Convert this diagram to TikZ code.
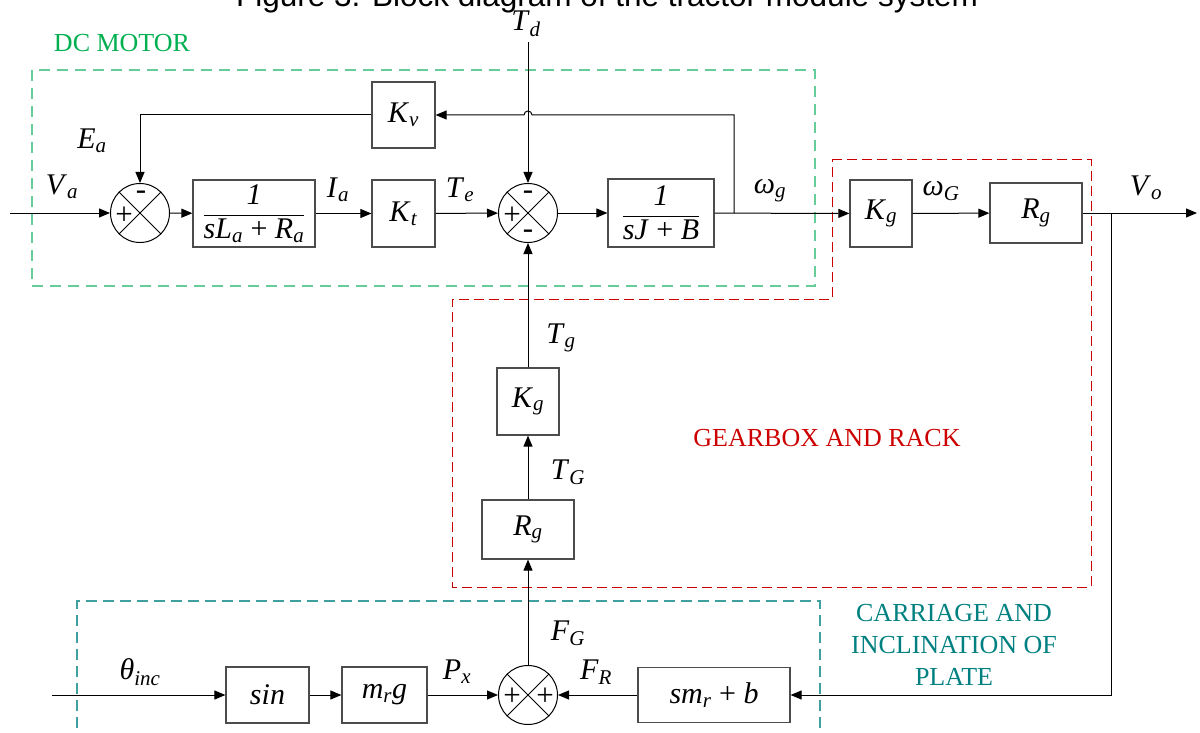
\documentclass[tikz,border=0pt]{standalone}
\usepackage{fontspec}
\setmainfont{Liberation Serif}
\setsansfont{Liberation Sans}
\usetikzlibrary{arrows.meta}
\definecolor{dcgreen}{RGB}{0,176,80}
\definecolor{dcline}{RGB}{102,204,153}
\definecolor{gbred}{RGB}{204,0,0}
\definecolor{crteal}{RGB}{0,128,128}
\definecolor{crline}{RGB}{64,160,160}
\newcommand{\vr}[2]{\textit{#1}\textsubscript{\textit{#2}}}
\newcommand{\fr}[2]{$\displaystyle\frac{\mbox{#1}}{\mbox{#2}}$}
\tikzset{
  blk/.style={draw=black!70,line width=1.2pt,inner sep=0pt,font=\fontsize{30}{34}\selectfont},
  sumj/.style={circle,draw,line width=1pt,minimum size=59pt,inner sep=0pt},
  sgn/.style={inner sep=0pt,font=\fontsize{31}{34}\selectfont},
  lbl/.style={inner sep=0pt,font=\fontsize{30}{34}\selectfont},
  grp/.style={inner sep=0pt,font=\fontsize{26}{32}\selectfont,align=center},
  arr/.style={line width=1pt,-{Triangle[length=11pt,width=9pt]}},
  ln/.style={line width=1pt}
}
\begin{document}
\begin{tikzpicture}[x=1pt,y=-1pt]
\useasboundingbox (0,0) rectangle (1200,733);
\node[anchor=base,inner sep=0pt,font=\fontsize{31.5}{36}\sffamily] (ttl) at (607,7) {Figure 3. Block diagram of the tractor module system};
% group frames
\draw[dcline,line width=1.5pt,dash pattern=on 11pt off 7pt] (32,70) rectangle (815,286);
\draw[gbred,line width=1pt,dash pattern=on 10pt off 5pt] (832,160) -- (1091,160) -- (1091,587) -- (452,587) -- (452,299) -- (832,299) -- cycle;
\draw[crline,line width=1.2pt,dash pattern=on 11pt off 6pt] (77,745) -- (77,601) -- (820,601) -- (820,745);
\node[grp,text=dcgreen] (ldc) at (122,43) {DC MOTOR};
\node[grp,text=gbred] (lgb) at (827,438) {GEARBOX AND RACK};
\node[grp,text=crteal] (lcr) at (954,645) {CARRIAGE AND\\INCLINATION OF\\PLATE};
% blocks
\node[sumj] (s1) at (140,213) {};
\node[blk,minimum width=122pt,minimum height=67pt] (fa) at (254,213.5) {\fr{\textit{1}}{\vr{sL}{a} + \vr{R}{a}}};
\node[blk,minimum width=63pt,minimum height=67pt] (kt) at (403.5,213.5) {\vr{K}{t}};
\node[blk,minimum width=63pt,minimum height=66pt] (kv) at (403.5,115) {\vr{K}{v}};
\node[sumj] (s2) at (528,213) {};
\node[blk,minimum width=106pt,minimum height=68pt] (fj) at (661,213) {\fr{\textit{1}}{\textit{sJ} + \textit{B}}};
\node[blk,minimum width=62pt,minimum height=67pt] (kg1) at (881,213.5) {\vr{K}{g}};
\node[blk,minimum width=92pt,minimum height=60pt] (rg1) at (1036,213) {\vr{R}{g}};
\node[blk,minimum width=62pt,minimum height=67pt] (kg2) at (528,401.5) {\vr{K}{g}};
\node[blk,minimum width=92pt,minimum height=59pt] (rg2) at (528,529.5) {\vr{R}{g}};
\node[sumj] (s3) at (528,695) {};
\node[blk,minimum width=83pt,minimum height=56pt] (sn) at (267.5,695) {\textit{sin}};
\node[blk,minimum width=85pt,minimum height=56pt] (mg) at (384.5,695) {\vr{m}{r}\textit{g}};
\node[blk,minimum width=152pt,minimum height=55pt] (fr) at (714,695) {\vr{sm}{r} + \textit{b}};
% summing junction crosses and signs
\foreach \s in {s1,s2,s3}
  \draw[ln] (\s.45) -- (\s.225) (\s.135) -- (\s.315);
\node[sgn] (s1m) at (141,195) {-};
\node[sgn] (s1p) at (124,216) {+};
\node[sgn] (s2m) at (528,195) {-};
\node[sgn] (s2p) at (512,216) {+};
\node[sgn] (s2b) at (528,234) {-};
\node[sgn] (s3l) at (512,697) {+};
\node[sgn] (s3r) at (545,697) {+};
% free ends
\coordinate (va) at (10,213);
\coordinate (vo) at (1197,213);
\coordinate (td) at (528,42);
\coordinate (tk1) at (734,213);
\coordinate (tk2) at (1111,213);
\coordinate (th) at (52,695);
\coordinate (jp) at (532,115);
% signals
\draw[arr] (va) -- (s1);
\draw[arr] (s1) -- (fa);
\draw[arr] (fa) -- (kt);
\draw[arr] (kt) -- (s2);
\draw[arr] (s2) -- (fj);
\draw[arr] (fj) -- (kg1);
\draw[arr] (kg1) -- (rg1);
\draw[arr] (rg1) -- (vo);
\draw[arr] (td) -- (s2);
\draw[arr] (tk1) |- (jp) arc[start angle=0,end angle=180,radius=4pt] -- (kv);
\draw[arr] (kv) -| (s1);
\draw[arr] (s3) -- (rg2);
\draw[arr] (rg2) -- (kg2);
\draw[arr] (kg2) -- (s2);
\draw[arr] (th) -- (sn);
\draw[arr] (sn) -- (mg);
\draw[arr] (mg) -- (s3);
\draw[arr] (fr) -- (s3);
\draw[arr] (tk2) |- (fr);
% signal labels
\node[lbl] (ltd) at (526,24) {\vr{T}{d}};
\node[lbl] (lea) at (92,141) {\vr{E}{a}};
\node[lbl] (lva) at (62,187) {\vr{V}{a}};
\node[lbl] (lia) at (338,190) {\vr{I}{a}};
\node[lbl] (lte) at (460,190) {\vr{T}{e}};
\node[lbl] (lwg) at (770,191) {\vr{ω}{g}};
\node[lbl] (lwG) at (941,191) {\vr{ω}{G}};
\node[lbl] (lvo) at (1146,188) {\vr{V}{o}};
\node[lbl] (ltg) at (561,338) {\vr{T}{g}};
\node[lbl] (ltG) at (568,472) {\vr{T}{G}};
\node[lbl] (lfg) at (568,633) {\vr{F}{G}};
\node[lbl] (lth) at (140,672) {\vr{θ}{inc}};
\node[lbl] (lpx) at (457,672) {\vr{P}{x}};
\node[lbl] (lfr) at (596,672) {\vr{F}{R}};
\end{tikzpicture}
\end{document}
